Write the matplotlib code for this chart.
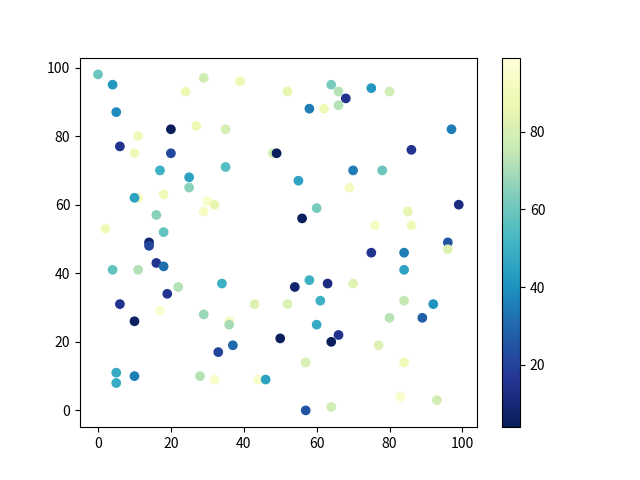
import matplotlib
matplotlib.use("Agg")
import matplotlib.pyplot as plt

plt.rcParams['font.family'] = ['Noto Sans CJK SC', 'DejaVu Sans']

# points: x, y and colour value
x = [0, 4, 5, 29, 24, 20, 27, 11, 6, 10, 20, 17, 25, 25, 11, 10, 18, 16, 2, 18,
     14, 14, 4, 11, 16, 18, 22, 19, 6, 17, 29, 10, 34, 33, 5, 5, 10, 28, 32, 39,
     52, 64, 66, 66, 68, 58, 62, 35, 48, 49, 35, 55, 30, 32, 29, 60, 56, 75, 80, 97,
     86, 70, 78, 69, 99, 85, 76, 86, 96, 96, 75, 84, 84, 70, 84, 92, 80, 89, 66, 77,
     84, 83, 93, 54, 58, 63, 43, 52, 61, 36, 36, 60, 64, 50, 37, 57, 44, 46, 57, 64]
y = [98, 95, 87, 97, 93, 82, 83, 80, 77, 75, 75, 70, 68, 65, 62, 62, 63, 57, 53, 52,
     49, 48, 41, 41, 43, 42, 36, 34, 31, 29, 28, 26, 37, 17, 11, 8, 10, 10, 9, 96,
     93, 95, 93, 89, 91, 88, 88, 82, 75, 75, 71, 67, 61, 60, 58, 59, 56, 94, 93, 82,
     76, 70, 70, 65, 60, 58, 54, 54, 49, 47, 46, 46, 41, 37, 32, 31, 27, 27, 22, 19,
     14, 4, 3, 36, 38, 37, 31, 31, 32, 26, 25, 25, 20, 21, 19, 14, 9, 9, 0, 1]
c = [60, 42, 38, 78, 88, 5, 88, 90, 15, 90, 22, 50, 45, 65, 92, 45, 90, 65, 90, 58,
     8, 20, 58, 72, 15, 32, 72, 15, 15, 95, 68, 6, 50, 20, 48, 48, 35, 72, 95, 88,
     85, 62, 72, 72, 15, 35, 88, 80, 78, 5, 55, 45, 95, 85, 92, 62, 5, 42, 78, 35,
     15, 35, 60, 92, 12, 85, 92, 90, 25, 82, 15, 35, 45, 83, 75, 40, 73, 28, 15, 82,
     90, 95, 78, 8, 50, 12, 82, 82, 50, 93, 70, 48, 5, 5, 30, 80, 95, 45, 25, 78]

plt.figure(figsize=(6.4, 4.8), dpi=100)
plt.scatter(x, y, c=c, cmap='YlGnBu_r', vmin=4, vmax=99)
plt.colorbar()
plt.savefig("out.png")
